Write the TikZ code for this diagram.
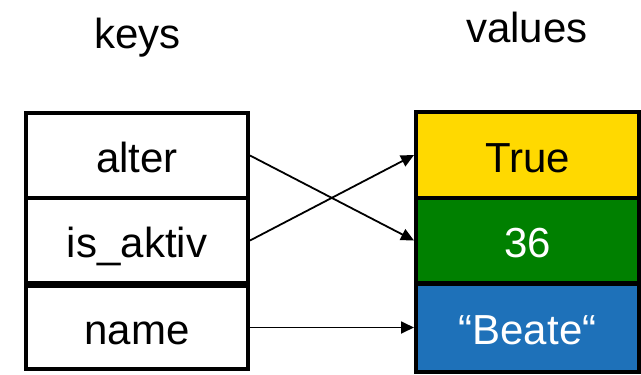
\documentclass[tikz,border=0pt]{standalone}
\usepackage{fontspec}
\setmainfont{Liberation Sans}
\usetikzlibrary{arrows.meta}
\definecolor{valyellow}{RGB}{255,217,0}
\definecolor{valgreen}{RGB}{0,128,0}
\definecolor{valblue}{RGB}{30,113,185}
\begin{document}
\begin{tikzpicture}[x=1pt,y=-1pt,
  cell/.style={draw=black,line width=4pt,rectangle,inner sep=0pt,
    minimum width=222pt,minimum height=85pt,font=\fontsize{42}{48}\selectfont,
    text height=34pt,text depth=0pt},
  title/.style={font=\fontsize{42}{48}\selectfont,anchor=base,inner sep=0pt},
  link/.style={line width=1.8pt,-{Triangle[length=13pt,width=12pt]}}]
\useasboundingbox (0,0) rectangle (641,375);
\node[title] (keys) at (137.5,48) {keys};
\node[title] (values) at (527,42) {values};
\node[cell] (alter) at (137,155.5) {alter};
\node[cell] (isaktiv) at (137,240.5) {is\_aktiv};
\node[cell,minimum height=83pt] (name) at (137,327.5) {name};
\node[cell,fill=valyellow,minimum width=223pt,minimum height=86pt] (true) at (527.5,155) {True};
\node[cell,fill=valgreen,text=white,minimum width=223pt] (v36) at (527.5,240.5) {36};
\node[cell,fill=valblue,text=white,minimum width=223pt,minimum height=88pt] (beate) at (527.5,327.5) {“Beate“};
\draw[link] (alter.east) -- (v36.west);
\draw[link] (isaktiv.east) -- (true.west);
\draw[link] (name.east) -- (beate.west);
\end{tikzpicture}
\end{document}
